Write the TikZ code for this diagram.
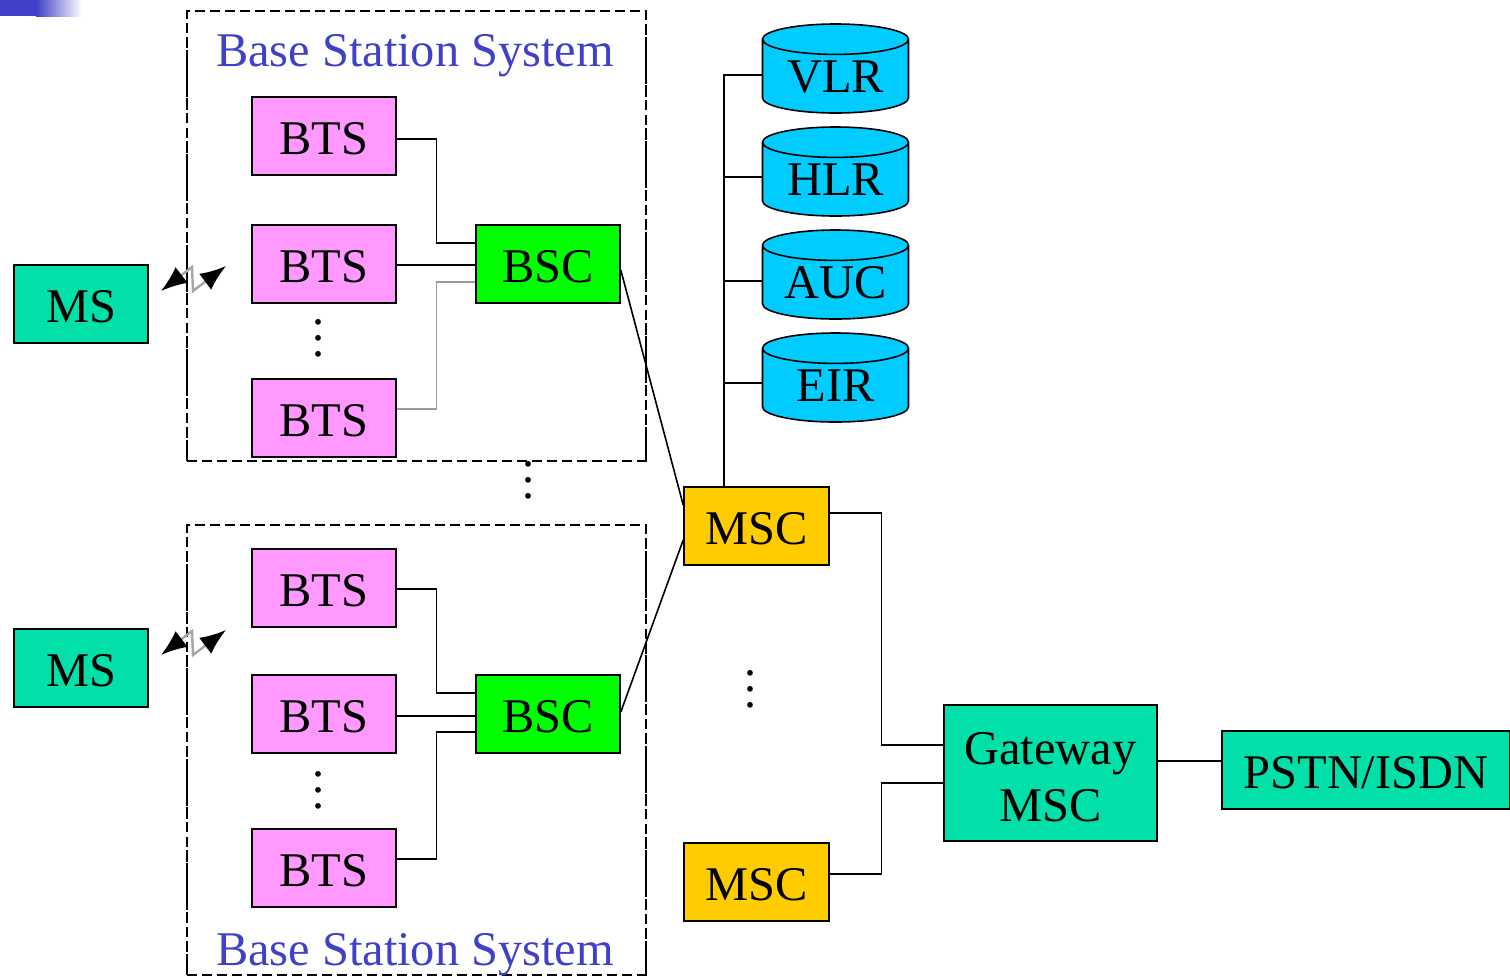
\documentclass[tikz,border=0pt]{standalone}
\usepackage{fontspec}
\setmainfont{Liberation Serif}
\usetikzlibrary{arrows.meta,calc,positioning,shapes.geometric}
\definecolor{mscolor}{RGB}{0,224,168}
\definecolor{btscolor}{RGB}{255,153,255}
\definecolor{bsccolor}{RGB}{0,255,0}
\definecolor{msccolor}{RGB}{255,204,0}
\definecolor{dbcolor}{RGB}{0,204,255}
\definecolor{titlecolor}{RGB}{64,64,200}
\newcommand{\vdotted}{\vbox{\baselineskip8pt\lineskiplimit0pt\hbox{.}\hbox{.}\hbox{.}}}
\newcommand{\dbtext}[1]{\makebox[40pt]{#1}}
\tikzset{
  box/.style={draw,line width=0.8pt,inner sep=0pt,minimum height=39pt,text height=18pt,text depth=0pt,font=\fontsize{24.2}{28.5}\selectfont},
  msbox/.style={box,fill=mscolor,minimum width=67pt},
  btsbox/.style={box,fill=btscolor,minimum width=72pt},
  bscbox/.style={box,fill=bsccolor,minimum width=72pt},
  mscbox/.style={box,fill=msccolor,minimum width=72.5pt},
  gatebox/.style={draw,line width=0.8pt,inner sep=0pt,fill=mscolor,minimum width=106.5pt,minimum height=68pt,align=center,font=\fontsize{24.2}{28.5}\selectfont},
  dbase/.style={draw,line width=0.8pt,fill=dbcolor,shape=cylinder,shape border rotate=90,shape aspect=0.38,
    inner sep=0pt,minimum width=73pt,minimum height=44.5pt,text height=16pt,text depth=0pt,font=\fontsize{24.2}{28.5}\selectfont},
  bssbox/.style={draw,line width=0.8pt,outer sep=0pt,dash pattern=on 5pt off 2.5pt,inner sep=0pt,minimum width=229.5pt,minimum height=225pt},
  bssside/.style={line width=1.4pt,dash pattern=on 4pt off 2.5pt},
  bsstitle/.style={text=titlecolor,font=\fontsize{24.2}{28.5}\selectfont},
  link/.style={line width=0.8pt},
  bolt/.style={line width=1.2pt,gray!70,{Latex[black,length=13pt,width=10pt]}-{Latex[black,length=13pt,width=10pt]}},
  dotted3/.style={inner sep=0pt,font=\fontsize{24}{28}\selectfont},
}
\begin{document}
\begin{tikzpicture}[x=0.5pt,y=-0.5pt,>=Latex]
  \useasboundingbox (0,0) rectangle (1510,976);
  \fill[titlecolor] (0,0) rectangle (36,16);
  \shade[left color=titlecolor,right color=white,shading angle=90] (36,0) rectangle (82,16);

  \node[bssbox] (bssa) at (416.5,236) {};
  \node[bssbox] (bssb) at (416.5,750) {};
  \draw[bssside] (bssa.north west) -- (bssa.south west);
  \draw[bssside] (bssa.north east) -- (bssa.south east);
  \draw[bssside] (bssb.north west) -- (bssb.south west);
  \draw[bssside] (bssb.north east) -- (bssb.south east);
  \node[bsstitle] (titlea) at (415,56) {Base Station System};
  \node[bsstitle] (titleb) at (415,955) {Base Station System};

  \node[msbox] (msa) at (81,304) {MS};
  \node[msbox] (msb) at (81,668) {MS};

  \node[btsbox] (btsa) at (324,136) {BTS};
  \node[btsbox] (btsb) at (324,264) {BTS};
  \node[btsbox] (btsc) at (324,418) {BTS};
  \node[btsbox] (btsd) at (324,588) {BTS};
  \node[btsbox] (btse) at (324,714) {BTS};
  \node[btsbox] (btsf) at (324,868) {BTS};
  \node[bscbox] (bsca) at (548,264) {BSC};
  \node[bscbox] (bscb) at (548,714) {BSC};

  \node[mscbox] (msca) at (756.5,526) {MSC};
  \node[mscbox] (mscb) at (756.5,882) {MSC};
  \node[gatebox] (gmsc) at (1050.5,773) {\rule{0pt}{20pt}Gateway\\MSC};
  \node[box,fill=mscolor,minimum width=144pt] (pstn) at (1366,770) {PSTN/ISDN};

  \node[dbase] (vlr) at (835.5,76.5) {\dbtext{VLR}};
  \node[dbase] (hlr) at (835.5,179.5) {\dbtext{HLR}};
  \node[dbase] (auc) at (835.5,282.5) {\dbtext{AUC}};
  \node[dbase] (eir) at (835.5,385.5) {\dbtext{EIR}};

  \node[dotted3] (dotsa) at (318,338) {\vdotted};
  \node[dotted3] (dotsb) at (528,480) {\vdotted};
  \node[dotted3] (dotsc) at (750,689) {\vdotted};
  \node[dotted3] (dotsd) at (318,790) {\vdotted};

  % base station links
  \draw[link] ($(btsa.east)+(0,3)$) -- ++(39.5,0) |- ($(bsca.west)+(0,-21)$);
  \draw[link,line width=1.2pt] ($(btsb.east)+(0,1)$) -- ($(bsca.west)+(0,1)$);
  \draw[link,gray!80] ($(btsc.east)+(0,-9)$) -- ++(39.5,0) |- ($(bsca.west)+(0,18)$);
  \draw[link] ($(btsd.east)+(0,1)$) -- ++(39.5,0) |- ($(bscb.west)+(0,-21)$);
  \draw[link,line width=1.2pt] ($(btse.east)+(0,2)$) -- ($(bscb.west)+(0,2)$);
  \draw[link] ($(btsf.east)+(0,-9)$) -- ++(39.5,0) |- ($(bscb.west)+(0,18)$);
  \draw[link] ($(bsca.east)+(0,6)$) -- ($(msca.west)+(0,-21)$);
  \draw[link] ($(bscb.east)+(0,-2)$) -- ($(msca.west)+(0,14)$);

  % databases on the msc
  \coordinate (trunk) at ($(msca.north west)+(40.5,0)$);
  \draw[link] (trunk) |- ($(vlr.west)+(0,-1.5)$);
  \draw[link] (trunk) |- ($(hlr.west)+(0,-2.5)$);
  \draw[link] (trunk) |- ($(auc.west)+(0,-1.5)$);
  \draw[link] (trunk) |- ($(eir.west)+(0,-2.5)$);

  \draw[link] ($(msca.east)+(0,-13)$) -- ++(51.5,0) |- ($(gmsc.west)+(0,-28)$);
  \draw[link] ($(mscb.east)+(0,-8)$) -- ++(51.5,0) |- ($(gmsc.west)+(0,10)$);
  \draw[link] ($(gmsc.east)+(0,-12)$) -- (pstn.west |- 0,761);

  % radio links
  \coordinate (boltaw) at (161,291);
  \coordinate (boltae) at (226,266);
  \coordinate (boltbw) at (161,655);
  \coordinate (boltbe) at (226,630);
  \draw[bolt] (boltaw) -- ++(31,-24) -- ++(1,24) -- (boltae);
  \draw[bolt] (boltbw) -- ++(31,-24) -- ++(1,24) -- (boltbe);
\end{tikzpicture}
\end{document}
